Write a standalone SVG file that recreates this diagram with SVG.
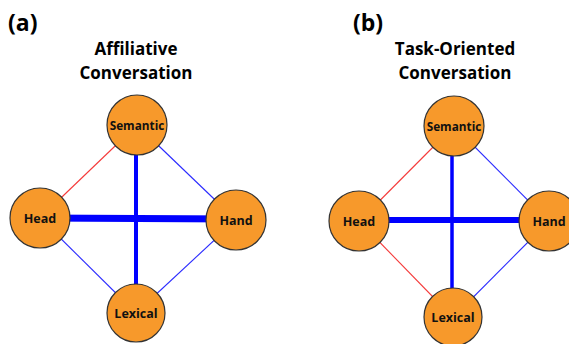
<svg xmlns="http://www.w3.org/2000/svg" width="569" height="344" viewBox="0 0 569 344">
<style>
.lbl{font-family:"Open Sans","Liberation Sans",sans-serif;font-weight:700;fill:#000}
.panel{font-size:23px}
.title{font-size:17px;text-anchor:middle;font-weight:700}
.node circle{fill:#F7992B;stroke:#333;stroke-width:1.2}
.node text{font-family:"Open Sans","Liberation Sans",sans-serif;font-weight:700;font-size:12.5px;text-anchor:middle;fill:#111}
.node text.s{font-size:11.8px}
.red{stroke:#F53A3A;stroke-width:1.1}
.blue{stroke:#2B2BFF;stroke-width:1.1}
.thick{stroke:#0000FF}
</style>
<rect width="569" height="344" fill="#fff"/>
<text class="lbl panel" x="8" y="31">(a)</text>
<text class="lbl panel" x="353" y="31">(b)</text>
<text class="lbl title" x="136" y="55">Affiliative</text>
<text class="lbl title" x="136" y="79">Conversation</text>
<text class="lbl title" x="455" y="55">Task-Oriented</text>
<text class="lbl title" x="455" y="79">Conversation</text>
<g id="connectors">
<line class="red" x1="137" y1="125" x2="40" y2="218"/>
<line class="blue" x1="137" y1="125" x2="236" y2="220"/>
<line class="blue" x1="40" y1="218" x2="136" y2="313"/>
<line class="blue" x1="236" y1="220" x2="136" y2="313"/>
<line class="thick" x1="136" y1="125" x2="136" y2="313" stroke-width="4"/>
<line class="thick" x1="40" y1="218" x2="236" y2="219" stroke-width="7"/>
<line class="red" x1="454" y1="126" x2="359" y2="221.5"/>
<line class="blue" x1="454" y1="126" x2="549" y2="221.5"/>
<line class="red" x1="359" y1="221" x2="453" y2="317.5"/>
<line class="blue" x1="549" y1="221" x2="453" y2="317.5"/>
<line class="thick" x1="452" y1="126" x2="452" y2="317" stroke-width="3.5"/>
<line class="thick" x1="359" y1="220" x2="549" y2="220" stroke-width="6"/>
</g>
<g id="a-semantic" class="node"><circle cx="137" cy="125" r="30"/><text class="s" x="137" y="129.5">Semantic</text></g>
<g id="a-head" class="node"><circle cx="40" cy="218" r="30"/><text x="40" y="222.5">Head</text></g>
<g id="a-hand" class="node"><circle cx="236" cy="220" r="30"/><text x="236" y="224.5">Hand</text></g>
<g id="a-lexical" class="node"><circle cx="136" cy="313" r="29"/><text x="136" y="318">Lexical</text></g>
<g id="b-semantic" class="node"><circle cx="454" cy="126" r="30"/><text class="s" x="454" y="131">Semantic</text></g>
<g id="b-head" class="node"><circle cx="359" cy="221" r="30"/><text x="359" y="226">Head</text></g>
<g id="b-hand" class="node"><circle cx="549" cy="221" r="30"/><text x="549" y="226">Hand</text></g>
<g id="b-lexical" class="node"><circle cx="453" cy="317" r="29"/><text x="453" y="322">Lexical</text></g>
</svg>
